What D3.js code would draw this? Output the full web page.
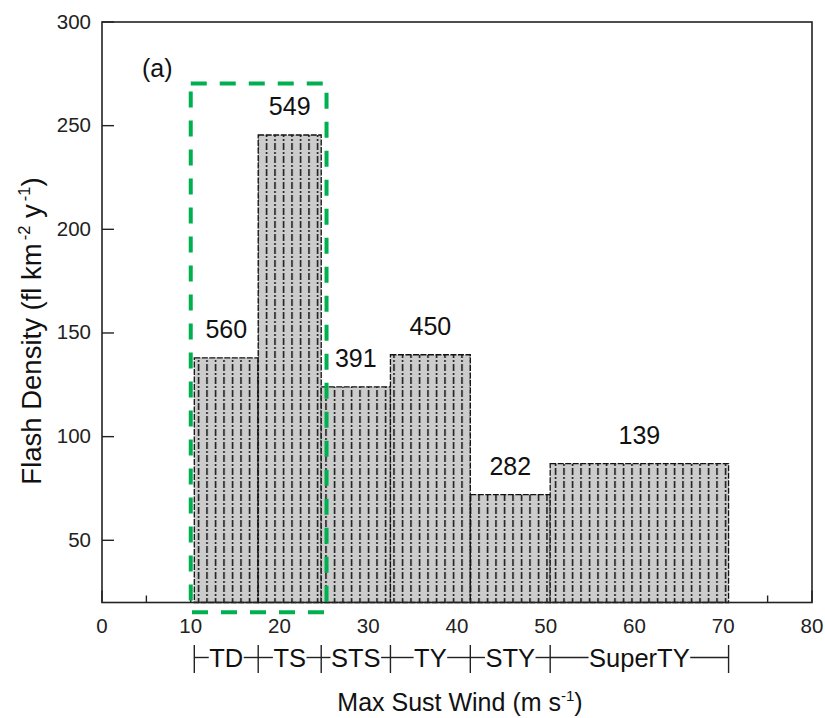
<!DOCTYPE html>
<html>
<head>
<meta charset="utf-8">
<script src="https://cdn.jsdelivr.net/npm/d3@7"></script>
<style>
  html, body { margin: 0; padding: 0; background: #fff; }
  svg { display: block; font-family: "Liberation Sans", Arial, Helvetica, sans-serif; }
</style>
</head>
<body>
<svg id="chart" width="825" height="718"></svg>
<script>
// Typhoon intensity classes, bin edges on the wind axis (m/s)
const categories = ["TD", "TS", "STS", "TY", "STY", "SuperTY"];
const binEdges = [10.4, 17.6, 24.7, 32.5, 41.5, 50.5, 70.6];
// Flash density per class (fl km^-2 y^-1)
const flashDensity = [138, 245.5, 124, 139.5, 72, 87];
// Sample counts printed above each class
const sampleCounts = [560, 549, 391, 450, 282, 139];
// Axis ticks
const xTickValues = [0, 10, 20, 30, 40, 50, 60, 70, 80];
const xMinorTicks = [5, 15, 25, 35, 45, 55, 65, 75];
const yTickValues = [50, 100, 150, 200, 250, 300];
// Highlighted range (TD + TS)
const highlightX = [10, 25.3];
const highlightY = [15.3, 270.3];

const svg = d3.select("#chart");
const x = d3.scaleLinear().domain([0, 80]).range([102, 812]);
const y = d3.scaleLinear().domain([20, 300]).range([602.5, 22]);

const ink = "#222";

// hatch pattern: gray fill with vertical dash-dot lines
const defs = svg.append("defs");
const pat = defs.append("pattern")
  .attr("id", "hatch")
  .attr("patternUnits", "userSpaceOnUse")
  .attr("x", Math.round(x(binEdges[0])))
  .attr("y", 0)
  .attr("width", 8.5)
  .attr("height", 13);
pat.append("rect").attr("width", 8.5).attr("height", 13).attr("fill", "#cccccc");
pat.append("line")
  .attr("x1", 4.5).attr("x2", 4.5).attr("y1", 0).attr("y2", 13)
  .attr("stroke", "#111").attr("stroke-width", 1.5)
  .attr("stroke-dasharray", "7,2,2,2");

// axis ticks (inward)
const gAxes = svg.append("g");
gAxes.selectAll("line.ytick").data(yTickValues).join("line")
  .attr("class", "ytick")
  .attr("x1", x(0)).attr("x2", x(0) + 12)
  .attr("y1", d => y(d)).attr("y2", d => y(d))
  .attr("stroke", ink).attr("stroke-width", 1.4);
gAxes.selectAll("line.xtick").data(xTickValues).join("line")
  .attr("class", "xtick")
  .attr("x1", d => x(d)).attr("x2", d => x(d))
  .attr("y1", y(20)).attr("y2", y(20) - 12)
  .attr("stroke", ink).attr("stroke-width", 1.4);
gAxes.selectAll("line.xminor").data(xMinorTicks).join("line")
  .attr("class", "xminor")
  .attr("x1", d => x(d)).attr("x2", d => x(d))
  .attr("y1", y(20)).attr("y2", y(20) - 7)
  .attr("stroke", ink).attr("stroke-width", 1.4);

// bars
const bins = categories.map((c, i) => ({
  cat: c, x0: binEdges[i], x1: binEdges[i + 1], v: flashDensity[i], n: sampleCounts[i]
}));
const gBars = svg.append("g");
gBars.selectAll("rect").data(bins).join("rect")
  .attr("x", d => x(d.x0))
  .attr("y", d => y(d.v))
  .attr("width", d => x(d.x1) - x(d.x0))
  .attr("height", d => y(20) - y(d.v))
  .attr("fill", "url(#hatch)")
  .attr("stroke", "#111")
  .attr("stroke-width", 1.3)
  .attr("stroke-dasharray", "6,1.5");

// frame
svg.append("rect")
  .attr("x", x(0)).attr("y", y(300))
  .attr("width", x(80) - x(0)).attr("height", y(20) - y(300))
  .attr("fill", "none").attr("stroke", ink).attr("stroke-width", 1.6);

// value labels
gBars.selectAll("text").data(bins).join("text")
  .attr("x", d => (x(d.x0) + x(d.x1)) / 2)
  .attr("y", d => y(d.v) - 20)
  .attr("text-anchor", "middle")
  .attr("font-size", 25)
  .attr("fill", "#111")
  .text(d => d.n);

// tick labels
svg.append("g").selectAll("text").data(yTickValues).join("text")
  .attr("x", 91).attr("y", d => y(d) + 6.5)
  .attr("text-anchor", "end")
  .attr("font-size", 20.5).attr("fill", "#222")
  .text(d => d);
svg.append("g").selectAll("text").data(xTickValues).join("text")
  .attr("x", d => x(d)).attr("y", 633)
  .attr("text-anchor", "middle")
  .attr("font-size", 20.5).attr("fill", "#222")
  .text(d => d);

// panel tag
svg.append("text").attr("x", 142).attr("y", 76.5)
  .attr("font-size", 25).attr("fill", "#111").text("(a)");

// category brackets under the axis
const gCat = svg.append("g");
const lineY = 657.5;
binEdges.forEach(e => {
  gCat.append("line")
    .attr("x1", x(e)).attr("x2", x(e))
    .attr("y1", 645).attr("y2", 673)
    .attr("stroke", ink).attr("stroke-width", 1.4);
});
bins.forEach(d => {
  const cx = (x(d.x0) + x(d.x1)) / 2;
  const t = gCat.append("text")
    .attr("x", cx).attr("y", 667)
    .attr("text-anchor", "middle")
    .attr("font-size", 25.5).attr("fill", "#111")
    .text(d.cat);
  const w = t.node().getComputedTextLength();
  const left = cx - w / 2, right = cx + w / 2;
  if (left - 1 > x(d.x0)) {
    gCat.append("line").attr("x1", x(d.x0)).attr("x2", left - 0.5)
      .attr("y1", lineY).attr("y2", lineY).attr("stroke", ink).attr("stroke-width", 1.4);
  }
  if (right + 1 < x(d.x1)) {
    gCat.append("line").attr("x1", right + 0.5).attr("x2", x(d.x1))
      .attr("y1", lineY).attr("y2", lineY).attr("stroke", ink).attr("stroke-width", 1.4);
  }
});

// axis titles
const xTitle = svg.append("text")
  .attr("x", 460).attr("y", 711)
  .attr("text-anchor", "middle")
  .attr("font-size", 25).attr("fill", "#111");
xTitle.append("tspan").text("Max Sust Wind (m s");
xTitle.append("tspan").attr("font-size", 15).attr("dy", -10).text("-1");
xTitle.append("tspan").attr("dy", 10).text(")");

const yTitle = svg.append("text")
  .attr("transform", "translate(41,331) rotate(-90)")
  .attr("text-anchor", "middle")
  .attr("font-size", 27.5).attr("fill", "#111");
yTitle.append("tspan").text("Flash Density (fl km");
yTitle.append("tspan").attr("font-size", 16.5).attr("dx", 3).attr("dy", -11).text("-2");
yTitle.append("tspan").attr("dy", 11).text(" y");
yTitle.append("tspan").attr("font-size", 16.5).attr("dx", 3).attr("dy", -11).text("-1");
yTitle.append("tspan").attr("dy", 11).text(")");

// highlighted TD/TS box
svg.append("rect")
  .attr("x", x(highlightX[0]))
  .attr("y", y(highlightY[1]))
  .attr("width", x(highlightX[1]) - x(highlightX[0]))
  .attr("height", y(highlightY[0]) - y(highlightY[1]))
  .attr("fill", "none")
  .attr("stroke", "#00b050")
  .attr("stroke-width", 4)
  .attr("stroke-dasharray", "16,13");
</script>
</body>
</html>
